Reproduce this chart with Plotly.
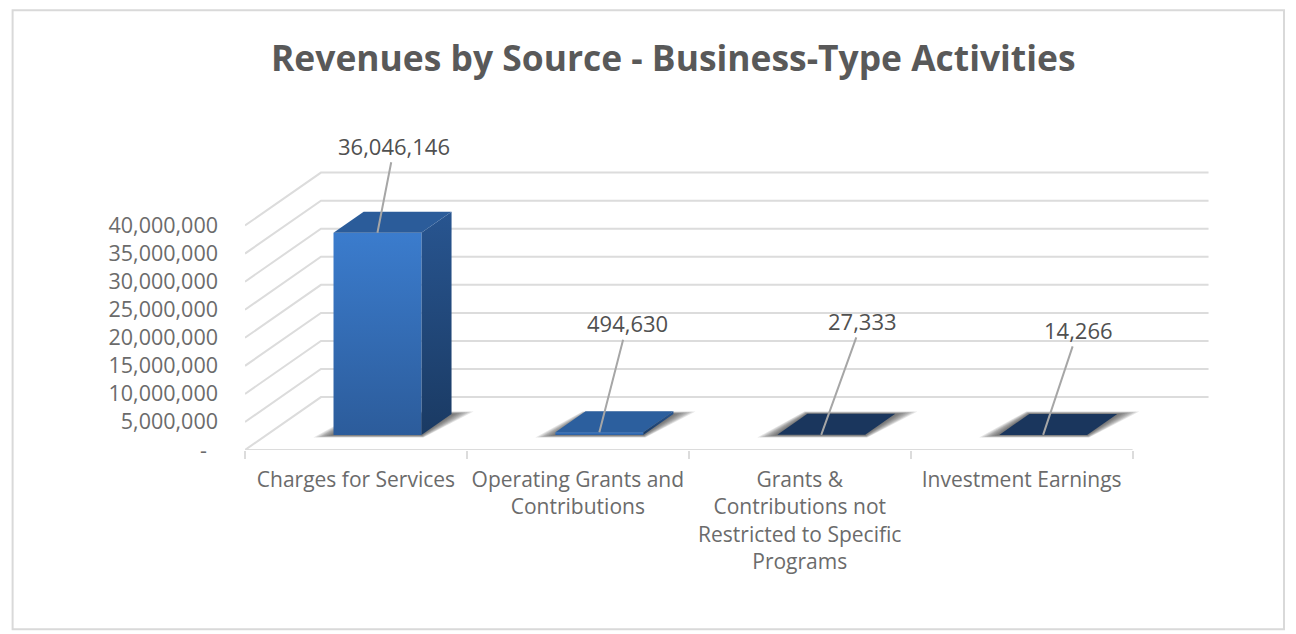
import plotly.graph_objects as go

categories = ["Charges for Services", "Operating Grants and<br>Contributions",
              "Grants &<br>Contributions not<br>Restricted to Specific<br>Programs", "Investment Earnings"]
values = [36046146, 494630, 27333, 14266]
value_labels = ["36,046,146", "494,630", "27,333", "14,266"]
y_ticks = [0, 5e6, 10e6, 15e6, 20e6, 25e6, 30e6, 35e6, 40e6]
y_tick_labels = ["-\u00a0\u00a0", "5,000,000", "10,000,000", "15,000,000", "20,000,000",
                 "25,000,000", "30,000,000", "35,000,000", "40,000,000"]
title = "Revenues by Source - Business-Type Activities"

# style / layout
W, H = 1296, 634
L, R, T, B = 244.5, 1290, 100, 450.5
PX_X = 222.0            # px per category
PX_Y = 28.1 / 5e6       # px per value unit
WALL_DX = 76 / PX_X     # oblique wall offset in x units
WALL_DY = 53 / PX_Y     # oblique wall offset in y units
D0, D1 = 0.283, 0.68    # bar depth positions
HALF = 0.198            # half bar width
GRID = "#dcdcdc"
FONT = "Open Sans"
top_colors = ["#2b5c9a", "#2c5f9e", "#1a365d", "#1a365d"]
label_offsets = [(17, -87), (28, -109), (41, -114), (35, -105)]


def P(x, v, d):
    return x + d * WALL_DX, v + d * WALL_DY


def poly(pts, **kw):
    return go.Scatter(x=[p[0] for p in pts] + [pts[0][0]], y=[p[1] for p in pts] + [pts[0][1]],
                      mode="lines", fill="toself", line=dict(width=0), hoverinfo="skip",
                      showlegend=False, **kw)


fig = go.Figure()

# walls: gridlines
for v in y_ticks:
    a, b, c = P(0, v, 0), P(0, v, 1), P(4, v, 1)
    fig.add_trace(go.Scatter(x=[a[0], b[0], c[0]], y=[a[1], b[1], c[1]], mode="lines",
                             line=dict(color=GRID, width=2), hoverinfo="skip", showlegend=False))
# floor front edge
fig.add_trace(go.Scatter(x=[0, 4], y=[0, 0], mode="lines", line=dict(color=GRID, width=2),
                         hoverinfo="skip", showlegend=False, cliponaxis=False))

# bars
px = 1 / PX_X
for i, v in enumerate(values):
    c = i + 0.5
    xl, xr = c - HALF, c + HALF
    # blurred floor shadow, built from growing translucent layers
    n = 8
    for k in range(n, 0, -1):
        f = k / n
        sy = 2.5 * f / PX_Y
        fig.add_trace(poly([
            (P(xl, 0, D0)[0] - 20 * f * px, P(xl, 0, D0)[1] - sy),
            (P(xr, 0, D0)[0] + 2 * f * px, P(xr, 0, D0)[1] - sy),
            (P(xr, 0, D1)[0] + 22 * f * px, P(xr, 0, D1)[1] + sy),
            (P(xl, 0, D1)[0] - 3 * f * px, P(xl, 0, D1)[1] + sy),
        ], fillcolor="rgba(50,50,50,0.12)"))
    # right side
    fig.add_trace(poly([P(xr, 0, D0), P(xr, 0, D1), P(xr, v, D1), P(xr, v, D0)],
                       fillgradient=dict(type="vertical",
                                         colorscale=[[0, "#1a3a63"], [1, "#285590"]])))
    # front
    fig.add_trace(poly([P(xl, 0, D0), P(xr, 0, D0), P(xr, v, D0), P(xl, v, D0)],
                       fillgradient=dict(type="vertical",
                                         colorscale=[[0, "#2c5c9b"], [1, "#3b7ccd"]])))
    # top
    fig.add_trace(poly([P(xl, v, D0), P(xr, v, D0), P(xr, v, D1), P(xl, v, D1)],
                       fillcolor=top_colors[i]))
    # value label with leader line
    ax, ay = label_offsets[i]
    lx, ly = P(c, v, D0)
    fig.add_annotation(x=lx, y=ly, xref="x", yref="y", text=value_labels[i], showarrow=True,
                       arrowhead=0, arrowwidth=2, arrowcolor="#a6a6a6", ax=ax, ay=ay,
                       font=dict(family=FONT, size=22, color="#505050"))

frame = lambda px_x: (px_x - L) / (R - L)
frame_y = lambda px_y: 1 - (px_y - T) / (B - T)
fig.add_shape(type="rect", xref="paper", yref="paper", x0=frame(12), x1=frame(1284),
              y0=frame_y(630), y1=frame_y(10), line=dict(color="#d9d9d9", width=2), layer="below")

fig.add_annotation(xref="paper", yref="paper", x=frame(673), y=frame_y(57), text=f"<b>{title}</b>",
                   showarrow=False, xanchor="center", yanchor="middle",
                   font=dict(family=FONT, size=35.4, color="#595959"))

fig.update_layout(
    width=W, height=H, autosize=False, paper_bgcolor="white", plot_bgcolor="white",
    margin=dict(l=L, r=W - R, t=T, b=H - B, autoexpand=False), showlegend=False,
    xaxis=dict(range=[0, (R - L) / PX_X], tickmode="array", tickvals=[0.5, 1.5, 2.5, 3.5],
               ticktext=categories, ticks="", showgrid=False, zeroline=False,
               showline=False, tickangle=0, ticklabelstandoff=15,
               tickfont=dict(family=FONT, size=21, color="#6b6b6b"),
               minor=dict(tickmode="array", tickvals=[0, 1, 2, 3, 4], ticks="outside", ticklen=8,
                          tickwidth=2, tickcolor=GRID, showgrid=False)),
    yaxis=dict(range=[0, (B - T) / PX_Y], tickmode="array", tickvals=y_ticks, ticktext=y_tick_labels,
               ticks="", showgrid=False, zeroline=False, showline=False, ticklabelstandoff=26,
               tickfont=dict(family=FONT, size=21.5, color="#6b6b6b")),
)

fig.write_html("out.html", config=dict(displayModeBar=False),
               post_script="document.body.style.margin='0';")
